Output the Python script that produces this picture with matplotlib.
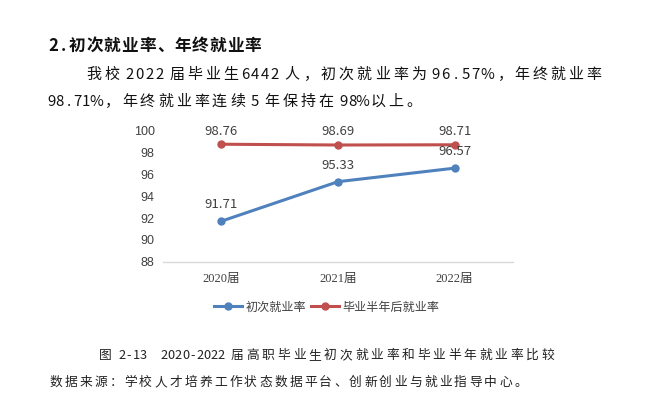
import matplotlib.pyplot as plt

plt.rcParams['font.family'] = ['Noto Sans CJK SC', 'DejaVu Sans']

years = ['2020届', '2021届', '2022届']
first_rate = [91.71, 95.33, 96.57]
half_year_rate = [98.76, 98.69, 98.71]
series_names = ['初次就业率', '毕业半年后就业率']
y_ticks = [88, 90, 92, 94, 96, 98, 100]

heading = '2.初次就业率、年终就业率'
para_1 = '我校 2022 届毕业生6442 人，初次就业率为 96.57%，年终就业率'
para_2 = '98.71%，年终就业率连续 5 年保持在 98%以上。'
caption = '图 2-13   2020-2022 届高职毕业生初次就业率和毕业半年就业率比较'
source = '数据来源：学校人才培养工作状态数据平台、创新创业与就业指导中心。'

blue = '#4F81BD'
red = '#C0504D'
W, H = 661, 418

fig = plt.figure(figsize=(6.61, 4.18), dpi=100)
fig.patch.set_facecolor('white')

PUNCT = '，。、：'


def doc_line(s, x0, yc, full, half, space, size, **kw):
    # mimic a justified word-processor line, one glyph per cell
    px = size * 100 / 72
    base = 1 - (yc + 0.38 * px) / H
    x = x0
    for ch in s:
        if ch == ' ':
            x += space
            continue
        if ord(ch) > 0x2E80:
            w = full
        elif ch == '%':
            w = half * 1.45
        else:
            w = half
        if ch in PUNCT:
            fig.text((x + 0.1 * full) / W, base, ch, fontsize=size, ha='left', va='baseline', **kw)
        else:
            fig.text((x + w / 2) / W, base, ch, fontsize=size, ha='center', va='baseline', **kw)
        x += w


doc_line(heading, 48, 44.5, 17.6, 10, 5, 12, fontweight='bold', color='#111111')
doc_line(para_1, 85, 73, 18.05, 9.9, 3.5, 10.8, color='#111111')
doc_line(para_2, 47, 100, 18.0, 8.6, 4, 10.8, color='#111111')
doc_line(caption, 98, 354, 15.5, 7.2, 4.5, 9.2, color='#222222')
doc_line(source, 48, 381, 15.0, 7.5, 4, 9.2, color='#222222')

ax = fig.add_axes([163 / W, 1 - 261.7 / H, (513 - 163) / W, (261.7 - 130.7) / H])
x = list(range(len(years)))
ax.plot(x, first_rate, color=blue, lw=2.2, marker='o', ms=5, label=series_names[0], clip_on=False)
ax.plot(x, half_year_rate, color=red, lw=2.2, marker='o', ms=5, label=series_names[1], clip_on=False)

for xi, v in zip(x, first_rate):
    ax.annotate(f'{v:.2f}', (xi, v), xytext=(0, 12), textcoords='offset points',
                ha='center', va='center', fontsize=9.5, color='#404040')
for xi, v in zip(x, half_year_rate):
    ax.annotate(f'{v:.2f}', (xi, v), xytext=(0, 9.5), textcoords='offset points',
                ha='center', va='center', fontsize=9.5, color='#404040')

ax.set_xlim(-0.5, 2.5)
ax.set_ylim(88, 100)
ax.set_yticks(y_ticks)
ax.set_xticks(x)
ax.set_xticklabels(years, fontsize=9, color='#404040',
                   family=['Liberation Serif', 'Noto Sans CJK SC'])
ax.tick_params(axis='y', length=0, labelsize=9, labelcolor='#404040', pad=6)
ax.tick_params(axis='x', length=0, pad=8)
for lbl in ax.get_yticklabels():
    lbl.set_family(['Liberation Sans', 'DejaVu Sans'])
for s in ['top', 'right', 'left']:
    ax.spines[s].set_visible(False)
ax.spines['bottom'].set_color('#D9D9D9')
ax.spines['bottom'].set_linewidth(1)

ax.legend(loc='center', bbox_to_anchor=((327 - 163) / (513 - 163), -(307 - 261.7) / (261.7 - 130.7)),
          ncol=2, frameon=False, fontsize=8.7, handlelength=2.3, columnspacing=0.4,
          handletextpad=0.3, labelcolor='#404040')

fig.savefig('out.png', dpi=100, facecolor='white')
